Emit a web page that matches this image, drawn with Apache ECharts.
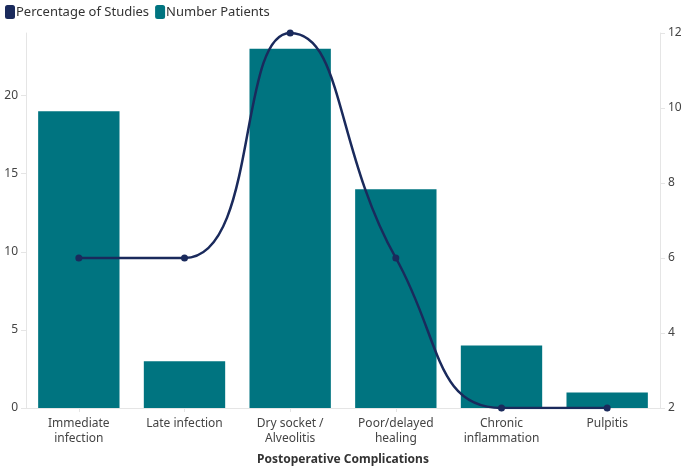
<!DOCTYPE html>
<html>
<head>
<meta charset="utf-8">
<script src="https://cdn.jsdelivr.net/npm/echarts@6/dist/echarts.min.js"></script>
<style>
  html, body { margin: 0; padding: 0; background: #fff; }
  #chart { width: 685px; height: 466px; }
</style>
</head>
<body>
<div id="chart"></div>
<script>
// chart data
const categories = [
  "Immediate\ninfection",
  "Late infection",
  "Dry socket /\nAlveolitis",
  "Poor/delayed\nhealing",
  "Chronic\ninflammation",
  "Pulpitis"
]
const numberPatients = [19, 3, 23, 14, 4, 1]
const percentageStudies = [6, 6, 12, 6, 2, 2]
const leftTicks = [0, 5, 10, 15, 20]
const rightTicks = [2, 4, 6, 8, 10, 12]

const font = "'Noto Sans', 'Open Sans', sans-serif"
const chart = echarts.init(document.getElementById("chart"))

chart.setOption({
  animation: false,
  textStyle: { fontFamily: font },
  legend: {
    left: 0,
    top: 0,
    itemGap: 6,
    itemWidth: 10,
    itemHeight: 14,
    icon: "roundRect",
    textStyle: { fontSize: 13, color: "#333", padding: [0, 0, 0, -4] },
    data: ["Percentage of Studies", "Number Patients"]
  },
  grid: { left: 26, right: 25, top: 33, bottom: 58, outerBoundsMode: "none" },
  xAxis: {
    type: "category",
    data: categories,
    name: "Postoperative Complications",
    nameLocation: "middle",
    nameGap: 46,
    nameTextStyle: { fontSize: 12, fontWeight: "bold", color: "#333" },
    axisLine: { lineStyle: { color: "#e5e5e5" } },
    axisTick: { show: true, alignWithLabel: true, length: 4, lineStyle: { color: "#e5e5e5" } },
    axisLabel: { color: "#444", fontSize: 12, interval: 0, lineHeight: 15, margin: 8 }
  },
  yAxis: [
    {
      type: "value",
      min: 0,
      max: 24,
      interval: 5,
      axisLine: { show: true, lineStyle: { color: "#e5e5e5" } },
      axisTick: { show: true, length: 5, lineStyle: { color: "#e5e5e5" } },
      axisLabel: {
        color: "#444",
        fontSize: 12,
        margin: 8,
        showMaxLabel: false,
        formatter: v => (leftTicks.includes(v) ? String(v) : "")
      },
      splitLine: { show: false }
    },
    {
      type: "value",
      min: 2,
      max: 12,
      interval: 2,
      position: "right",
      axisLine: { show: true, lineStyle: { color: "#e5e5e5" } },
      axisTick: { show: true, length: 5, lineStyle: { color: "#e5e5e5" } },
      axisLabel: {
        color: "#444",
        fontSize: 12,
        margin: 8,
        formatter: v => (rightTicks.includes(v) ? String(v) : "")
      },
      splitLine: { show: false }
    }
  ],
  series: [
    {
      name: "Number Patients",
      type: "bar",
      yAxisIndex: 0,
      data: numberPatients,
      barCategoryGap: "23%",
      itemStyle: { color: "#007480" },
      z: 1
    },
    {
      name: "Percentage of Studies",
      type: "line",
      yAxisIndex: 1,
      data: percentageStudies,
      smooth: 0.5,
      symbol: "circle",
      symbolSize: 7,
      itemStyle: { color: "#1a2a5c" },
      lineStyle: { color: "#1a2a5c", width: 2.5 },
      z: 3
    }
  ]
})
</script>
</body>
</html>
